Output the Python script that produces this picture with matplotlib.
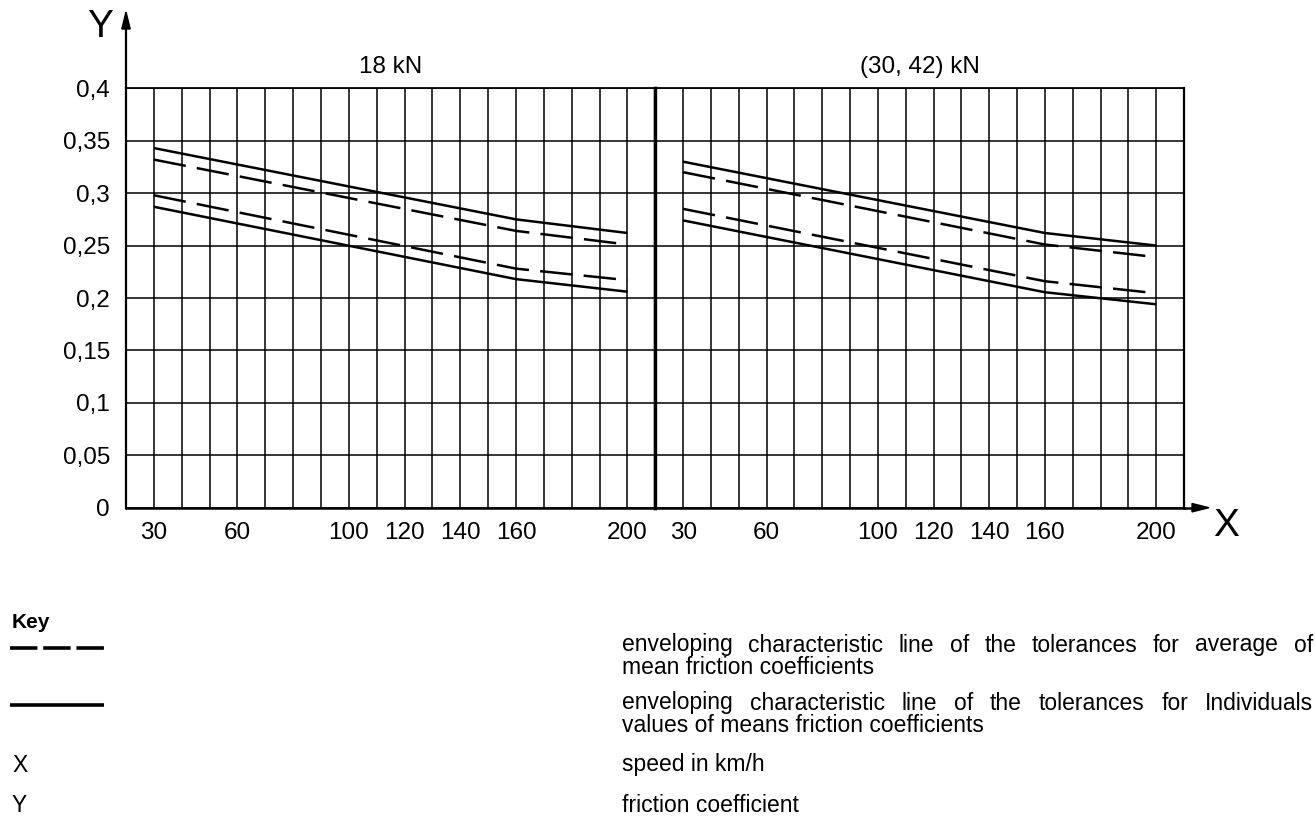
import matplotlib
matplotlib.use("Agg")
import matplotlib.pyplot as plt
from matplotlib.lines import Line2D
from matplotlib.patches import Polygon

# ---------------- data ----------------
speeds = [30, 160, 200]
# panel 1 : 18 kN
p1_upper_solid = [0.343, 0.275, 0.262]
p1_upper_dash = [0.332, 0.264, 0.251]
p1_lower_dash = [0.298, 0.228, 0.217]
p1_lower_solid = [0.287, 0.218, 0.206]
# panel 2 : (30, 42) kN
p2_upper_solid = [0.330, 0.262, 0.250]
p2_upper_dash = [0.320, 0.251, 0.239]
p2_lower_dash = [0.285, 0.216, 0.2045]
p2_lower_solid = [0.274, 0.2055, 0.194]

panel_titles = ["18 kN", "(30, 42) kN"]
x_grid = list(range(30, 201, 10))
x_labelled = [30, 60, 100, 120, 140, 160, 200]
y_ticks = [0, 0.05, 0.1, 0.15, 0.2, 0.25, 0.3, 0.35, 0.4]
y_labels = ["0", "0,05", "0,1", "0,15", "0,2", "0,25", "0,3", "0,35", "0,4"]

key_rows = [
    ("dash", ["enveloping characteristic line of the tolerances for average of",
              "mean friction coefficients"]),
    ("solid", ["enveloping characteristic line of the tolerances for Individuals",
               "values of means friction coefficients"]),
    ("X", ["speed in km/h"]),
    ("Y", ["friction coefficient"]),
]

# ---------------- layout ----------------
W, H = 1315, 834
plt.rcParams["font.family"] = ["Liberation Sans", "DejaVu Sans"]
fig = plt.figure(figsize=(W / 100, H / 100), dpi=100)
fig.patch.set_facecolor("white")


def fx(x):
    return x / W


def fy(y):
    return 1 - y / H


left, mid, right = 126.0, 655.3, 1184.0
top, bottom = 88.3, 507.7
ax1 = fig.add_axes([fx(left), fy(bottom), (mid - left) / W, (bottom - top) / H])
ax2 = fig.add_axes([fx(mid), fy(bottom), (right - mid) / W, (bottom - top) / H])

FS = 17.5
DASH = (0, (13, 4.5))
LW = 1.8
panels = [
    (ax1, [p1_upper_solid, p1_upper_dash, p1_lower_dash, p1_lower_solid]),
    (ax2, [p2_upper_solid, p2_upper_dash, p2_lower_dash, p2_lower_solid]),
]
styles = ["-", DASH, DASH, "-"]

for i, (ax, series) in enumerate(panels):
    ax.set_xlim(20, 210)
    ax.set_ylim(0, 0.4)
    ax.set_xticks(x_grid)
    ax.set_xticklabels([str(v) if v in x_labelled else "" for v in x_grid])
    ax.set_yticks(y_ticks)
    if i == 0:
        ax.set_yticklabels(y_labels)
    else:
        ax.set_yticklabels([])
    ax.tick_params(length=0, labelsize=FS)
    ax.tick_params(axis="x", pad=10.5)
    ax.tick_params(axis="y", pad=11.5)
    ax.grid(True, color="black", linewidth=1.1)
    ax.set_axisbelow(True)
    for s in ax.spines.values():
        s.set_color("black")
    ax.spines["top"].set_linewidth(1.3)
    ax.spines["bottom"].set_linewidth(1.8)
    for vals, ls in zip(series, styles):
        ax.plot(speeds, vals, color="black", linewidth=LW, linestyle=ls,
                solid_capstyle="butt", dash_capstyle="butt")
    ax.set_title(panel_titles[i], fontsize=FS, pad=11)

ax1.spines["left"].set_linewidth(1.6)
ax1.spines["right"].set_linewidth(2.4)
ax2.spines["left"].set_linewidth(2.4)
ax2.spines["right"].set_linewidth(1.6)

# axis arrows
fig.add_artist(Line2D([fx(left), fx(left)], [fy(top), fy(26)], color="black",
                      linewidth=1.6, transform=fig.transFigure))
fig.add_artist(Polygon([[fx(left), fy(12)], [fx(left - 4.2), fy(29)], [fx(left + 4.2), fy(29)]],
                       closed=True, color="black", transform=fig.transFigure))
fig.add_artist(Line2D([fx(right), fx(1195)], [fy(bottom), fy(bottom)], color="black",
                      linewidth=1.8, transform=fig.transFigure))
fig.add_artist(Polygon([[fx(1209), fy(bottom)], [fx(1192), fy(bottom - 4.2)], [fx(1192), fy(bottom + 4.2)]],
                       closed=True, color="black", transform=fig.transFigure))
fig.text(fx(100), fy(27), "Y", fontsize=28, ha="center", va="center")
fig.text(fx(1226), fy(526), "X", fontsize=28, ha="center", va="center")

# ---------------- key ----------------
KS = 16.5
fig.text(fx(12), fy(622), "Key", fontsize=15, fontweight="bold", ha="left", va="center")

renderer = fig.canvas.get_renderer()


def justified_line(text, y, x0, x1, justify):
    if not justify:
        fig.text(fx(x0), fy(y), text, fontsize=KS, ha="left", va="center")
        return
    words = text.split()
    objs = [fig.text(0, 0, w, fontsize=KS, ha="left", va="center") for w in words]
    widths = [o.get_window_extent(renderer).width for o in objs]
    gap = (x1 - x0 - sum(widths)) / (len(words) - 1)
    x = x0
    for o, w in zip(objs, widths):
        o.set_position((fx(x), fy(y)))
        x += w + gap


row_y = [(645, 667), (703, 726), (765,), (806,)]
text_x0, text_x1 = 622, 1313
for (kind, lines), ys in zip(key_rows, row_y):
    for j, (ln, yy) in enumerate(zip(lines, ys)):
        justified_line(ln, yy, text_x0, text_x1, justify=(j < len(lines) - 1))
    if kind == "dash":
        fig.add_artist(Line2D([fx(10), fx(104)], [fy(648), fy(648)], color="black",
                              linewidth=2.6, linestyle=(0, (7.6, 1.6)),
                              dash_capstyle="butt", transform=fig.transFigure))
    elif kind == "solid":
        fig.add_artist(Line2D([fx(10), fx(104)], [fy(705), fy(705)], color="black",
                              linewidth=2.6, solid_capstyle="butt",
                              transform=fig.transFigure))
    else:
        fig.text(fx(12), fy(ys[0]), kind, fontsize=KS, ha="left", va="center")

fig.savefig("out.png", dpi=100, facecolor="white")
